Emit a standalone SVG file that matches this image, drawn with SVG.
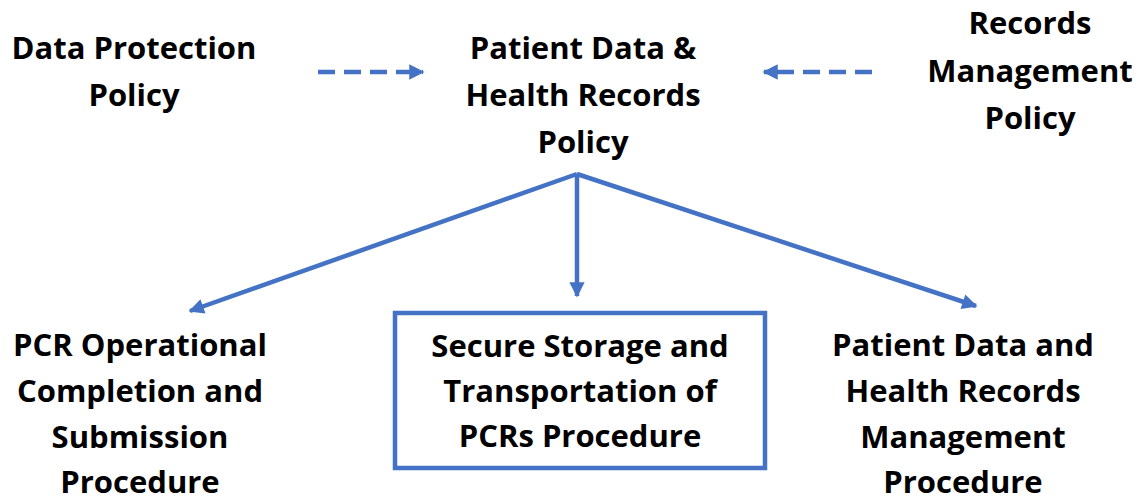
<svg xmlns="http://www.w3.org/2000/svg" width="1148" height="503" viewBox="0 0 1148 503">
<defs>
<style>
.t{font-family:"Open Sans","Liberation Sans",sans-serif;font-weight:700;font-size:31px;fill:#000;text-anchor:middle}
.c{stroke:#4472C4;stroke-width:4.5;fill:none}
.d{stroke-dasharray:17 9}
</style>
<marker id="ah" viewBox="0 0 10 10" refX="9" refY="5" markerWidth="3.6" markerHeight="3.4" orient="auto" markerUnits="strokeWidth">
<path d="M0,0 L10,5 L0,10 z" fill="#4472C4"/>
</marker>
</defs>
<rect width="1148" height="503" fill="#fff"/>
<g id="connectors">
<line class="c d" x1="318" y1="72" x2="423" y2="72" marker-end="url(#ah)"/>
<line class="c d" x1="872" y1="72" x2="764" y2="72" marker-end="url(#ah)"/>
<line class="c" x1="577" y1="174" x2="190" y2="311" marker-end="url(#ah)"/>
<line class="c" x1="577" y1="174" x2="577" y2="296" marker-end="url(#ah)"/>
<line class="c" x1="577" y1="174" x2="976" y2="306" marker-end="url(#ah)"/>
</g>
<g id="data-protection">
<text class="t" x="134" y="59">Data Protection</text>
<text class="t" x="134" y="106">Policy</text>
</g>
<g id="patient-data-policy">
<text class="t" x="583" y="59">Patient Data &amp;</text>
<text class="t" x="583" y="106">Health Records</text>
<text class="t" x="583" y="153">Policy</text>
</g>
<g id="records-management">
<text class="t" x="1030" y="34">Records</text>
<text class="t" x="1030" y="82">Management</text>
<text class="t" x="1030" y="129">Policy</text>
</g>
<g id="pcr-operational">
<text class="t" x="140" y="356">PCR Operational</text>
<text class="t" x="140" y="402">Completion and</text>
<text class="t" x="140" y="448">Submission</text>
<text class="t" x="140" y="493">Procedure</text>
</g>
<g id="secure-storage">
<rect x="395" y="313" width="370" height="155" fill="none" stroke="#4472C4" stroke-width="4.5"/>
<text class="t" x="580" y="357">Secure Storage and</text>
<text class="t" x="580" y="402">Transportation of</text>
<text class="t" x="580" y="447">PCRs Procedure</text>
</g>
<g id="patient-data-management">
<text class="t" x="963" y="356">Patient Data and</text>
<text class="t" x="963" y="402">Health Records</text>
<text class="t" x="963" y="448">Management</text>
<text class="t" x="963" y="493">Procedure</text>
</g>
</svg>
